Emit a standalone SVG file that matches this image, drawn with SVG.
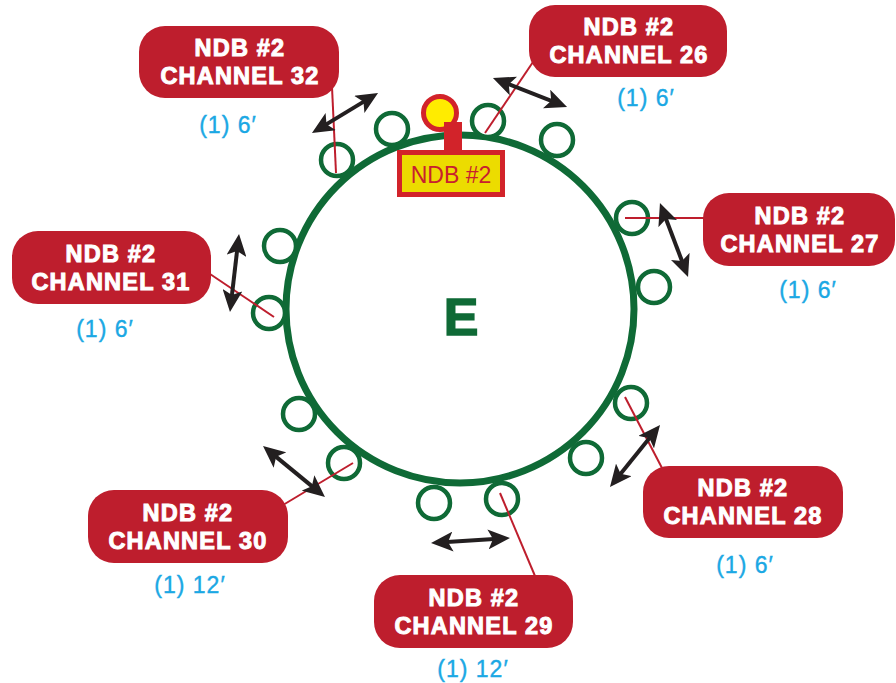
<svg xmlns="http://www.w3.org/2000/svg" width="896" height="683" viewBox="0 0 896 683">
<style>
.ring{fill:none;stroke:#0f6a36;stroke-width:7}
.pin{fill:#fff;stroke:#0f6a36;stroke-width:4.5}
.lead{stroke:#be1e2d;stroke-width:2;fill:none}
.arr{stroke:#231f20;stroke-width:4;fill:none;marker-start:url(#ah);marker-end:url(#ah)}
.box{fill:#be1e2d}
.bt{font-family:"Liberation Sans",Arial,sans-serif;font-weight:bold;font-size:23.5px;fill:#fff;stroke:#fff;stroke-width:1;text-anchor:middle;letter-spacing:1.2px}
.len{font-family:"Liberation Sans",Arial,sans-serif;font-size:23px;fill:#1ba8e4;stroke:#1ba8e4;stroke-width:0.4;text-anchor:middle;letter-spacing:1px}
</style>
<defs>
<marker id="ah" markerUnits="userSpaceOnUse" markerWidth="22" markerHeight="20" viewBox="0 0 22 20" refX="14" refY="10" orient="auto-start-reverse">
<path d="M0,0 L22,10 L0,20 L5,10 z" fill="#231f20"/>
</marker>
</defs>
<rect width="896" height="683" fill="#fff"/>

<g id="ring">
<circle class="ring" cx="460" cy="309" r="174"/>
<text x="461" y="335" font-family="Liberation Sans,Arial,sans-serif" font-weight="bold" font-size="52" fill="#0f6a36" stroke="#0f6a36" stroke-width="1.5" text-anchor="middle">E</text>
</g>

<g id="pins">
<circle class="pin" cx="337" cy="160" r="16"/>
<circle class="pin" cx="392" cy="129" r="16"/>
<circle class="pin" cx="488" cy="121" r="16"/>
<circle class="pin" cx="557" cy="140" r="16"/>
<circle class="pin" cx="632" cy="218" r="16"/>
<circle class="pin" cx="654" cy="287" r="16"/>
<circle class="pin" cx="631" cy="403" r="16"/>
<circle class="pin" cx="586" cy="458" r="16"/>
<circle class="pin" cx="502" cy="499" r="16"/>
<circle class="pin" cx="434" cy="503" r="16"/>
<circle class="pin" cx="344" cy="463" r="16"/>
<circle class="pin" cx="299" cy="414" r="16"/>
<circle class="pin" cx="269" cy="313" r="16"/>
<circle class="pin" cx="280" cy="246" r="16"/>
</g>

<g id="ndb">
<circle cx="440" cy="113" r="16.5" fill="#ffec00" stroke="#d2232a" stroke-width="5"/>
<rect x="444" y="122" width="18" height="29" fill="#d2232a"/>
<rect x="399.5" y="152.5" width="103" height="42" fill="#ecdc00" stroke="#d2232a" stroke-width="5"/>
<text x="451" y="183" font-family="Liberation Sans,Arial,sans-serif" font-size="23" fill="#c8202e" text-anchor="middle">NDB #2</text>
</g>

<g id="connectors">
<line class="lead" x1="332" y1="87" x2="336" y2="173"/>
<line class="lead" x1="533" y1="62" x2="485" y2="133"/>
<line class="lead" x1="625" y1="218" x2="707" y2="218"/>
<line class="lead" x1="210" y1="274" x2="274" y2="317"/>
<line class="lead" x1="625" y1="397" x2="662" y2="468"/>
<line class="lead" x1="500" y1="493" x2="535" y2="576"/>
<line class="lead" x1="353" y1="463" x2="283" y2="505"/>
<line class="arr" x1="318.8" y1="128.9" x2="371.2" y2="97.1"/>
<line class="arr" x1="500.4" y1="80.9" x2="559.6" y2="104.1"/>
<line class="arr" x1="662.8" y1="210.5" x2="685.2" y2="269.5"/>
<line class="arr" x1="238.1" y1="242" x2="230.9" y2="304"/>
<line class="arr" x1="655" y1="431.2" x2="615" y2="480.8"/>
<line class="arr" x1="439" y1="542.5" x2="502" y2="538.5"/>
<line class="arr" x1="269.2" y1="451.1" x2="318.8" y2="491.9"/>
</g>

<g id="ch32">
<rect class="box" x="139" y="26" width="200" height="72" rx="26"/>
<text class="bt" x="240" y="56">NDB #2</text>
<text class="bt" x="240" y="84">CHANNEL 32</text>
<text class="len" x="228" y="133">(1) 6′</text>
</g>
<g id="ch26">
<rect class="box" x="529" y="5" width="198" height="72" rx="26"/>
<text class="bt" x="629" y="35">NDB #2</text>
<text class="bt" x="629" y="63">CHANNEL 26</text>
<text class="len" x="646" y="106">(1) 6′</text>
</g>
<g id="ch27">
<rect class="box" x="703" y="193" width="192" height="73" rx="26"/>
<text class="bt" x="800" y="224">NDB #2</text>
<text class="bt" x="800" y="252">CHANNEL 27</text>
<text class="len" x="808" y="298">(1) 6′</text>
</g>
<g id="ch31">
<rect class="box" x="12" y="231" width="199" height="73" rx="26"/>
<text class="bt" x="111" y="262">NDB #2</text>
<text class="bt" x="111" y="290">CHANNEL 31</text>
<text class="len" x="105" y="337">(1) 6′</text>
</g>
<g id="ch28">
<rect class="box" x="643" y="466" width="200" height="72" rx="26"/>
<text class="bt" x="743" y="496">NDB #2</text>
<text class="bt" x="743" y="524">CHANNEL 28</text>
<text class="len" x="745" y="573">(1) 6′</text>
</g>
<g id="ch30">
<rect class="box" x="88" y="490" width="200" height="73" rx="26"/>
<text class="bt" x="188" y="521">NDB #2</text>
<text class="bt" x="188" y="549">CHANNEL 30</text>
<text class="len" x="190" y="593">(1) 12′</text>
</g>
<g id="ch29">
<rect class="box" x="374" y="575" width="199" height="73" rx="26"/>
<text class="bt" x="474" y="606">NDB #2</text>
<text class="bt" x="474" y="634">CHANNEL 29</text>
<text class="len" x="473" y="677">(1) 12′</text>
</g>
</svg>
